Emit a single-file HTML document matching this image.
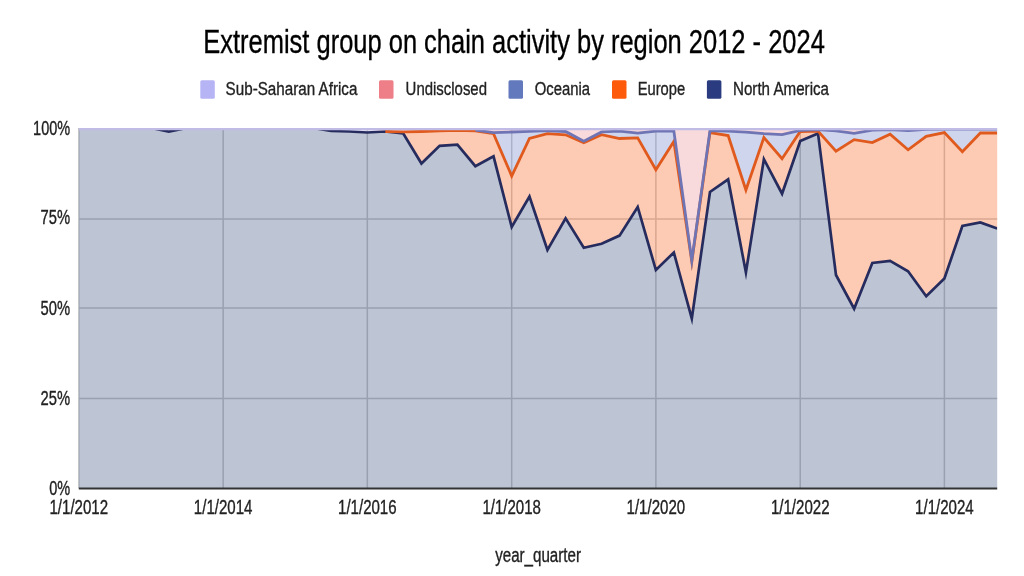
<!DOCTYPE html><html><head><meta charset="utf-8"><style>html,body{margin:0;padding:0;background:#fff;overflow:hidden}svg{display:block;will-change:transform}</style></head><body><svg width="1024" height="576" viewBox="0 0 1024 576"><defs><clipPath id="pc"><rect x="78.80" y="128.00" width="918.40" height="360.30"/></clipPath></defs><rect width="1024" height="576" fill="#fff"/><g stroke="#cccccc" stroke-width="1.5"><line x1="78.80" x2="997.20" y1="219.00" y2="219.00"/><line x1="78.80" x2="997.20" y1="308.00" y2="308.00"/><line x1="78.80" x2="997.20" y1="398.50" y2="398.50"/><line x1="78.80" x2="78.80" y1="128.0" y2="488.3"/><line x1="223.17" x2="223.17" y1="128.0" y2="488.3"/><line x1="367.33" x2="367.33" y1="128.0" y2="488.3"/><line x1="511.70" x2="511.70" y1="128.0" y2="488.3"/><line x1="655.87" x2="655.87" y1="128.0" y2="488.3"/><line x1="800.23" x2="800.23" y1="128.0" y2="488.3"/><line x1="944.40" x2="944.40" y1="128.0" y2="488.3"/></g><g fill-opacity="0.3"><polygon fill="#263a70" points="78.80,128.00 96.77,128.00 114.74,128.00 132.91,128.00 151.08,128.00 168.86,131.60 186.83,128.00 205.00,128.00 223.17,128.00 240.94,128.00 258.91,128.00 277.08,128.00 295.25,128.00 313.02,128.00 331.00,131.00 349.16,131.50 367.33,132.50 385.30,131.50 403.28,133.50 421.45,163.50 439.61,145.80 457.39,144.70 475.36,166.20 493.53,156.30 511.70,227.00 529.47,196.50 547.44,250.00 565.61,218.40 583.78,247.70 601.56,243.70 619.53,235.60 637.70,207.00 655.87,270.00 673.84,252.50 691.81,318.50 709.98,192.00 728.15,179.40 745.92,272.50 763.89,159.20 782.06,193.75 800.23,141.00 818.01,133.40 835.98,275.00 854.15,308.75 872.32,262.90 890.09,260.80 908.06,271.25 926.23,296.25 944.40,278.50 962.37,226.00 980.34,222.50 997.20,228.50 997.20,488.30 980.34,488.30 962.37,488.30 944.40,488.30 926.23,488.30 908.06,488.30 890.09,488.30 872.32,488.30 854.15,488.30 835.98,488.30 818.01,488.30 800.23,488.30 782.06,488.30 763.89,488.30 745.92,488.30 728.15,488.30 709.98,488.30 691.81,488.30 673.84,488.30 655.87,488.30 637.70,488.30 619.53,488.30 601.56,488.30 583.78,488.30 565.61,488.30 547.44,488.30 529.47,488.30 511.70,488.30 493.53,488.30 475.36,488.30 457.39,488.30 439.61,488.30 421.45,488.30 403.28,488.30 385.30,488.30 367.33,488.30 349.16,488.30 331.00,488.30 313.02,488.30 295.25,488.30 277.08,488.30 258.91,488.30 240.94,488.30 223.17,488.30 205.00,488.30 186.83,488.30 168.86,488.30 151.08,488.30 132.91,488.30 114.74,488.30 96.77,488.30 78.80,488.30"/><polygon fill="#f84e05" points="78.80,128.00 96.77,128.00 114.74,128.00 132.91,128.00 151.08,128.00 168.86,131.60 186.83,128.00 205.00,128.00 223.17,128.00 240.94,128.00 258.91,128.00 277.08,128.00 295.25,128.00 313.02,128.00 331.00,131.00 349.16,131.50 367.33,132.50 385.30,131.50 403.28,131.80 421.45,131.50 439.61,130.80 457.39,130.40 475.36,130.80 493.53,133.70 511.70,176.00 529.47,138.40 547.44,133.60 565.61,134.80 583.78,142.80 601.56,134.70 619.53,138.50 637.70,137.90 655.87,169.80 673.84,141.50 691.81,261.50 709.98,132.50 728.15,135.60 745.92,190.00 763.89,137.50 782.06,158.70 800.23,131.50 818.01,131.10 835.98,151.20 854.15,139.60 872.32,142.60 890.09,134.20 908.06,149.80 926.23,136.40 944.40,132.60 962.37,151.70 980.34,133.00 997.20,133.00 997.20,228.50 980.34,222.50 962.37,226.00 944.40,278.50 926.23,296.25 908.06,271.25 890.09,260.80 872.32,262.90 854.15,308.75 835.98,275.00 818.01,133.40 800.23,141.00 782.06,193.75 763.89,159.20 745.92,272.50 728.15,179.40 709.98,192.00 691.81,318.50 673.84,252.50 655.87,270.00 637.70,207.00 619.53,235.60 601.56,243.70 583.78,247.70 565.61,218.40 547.44,250.00 529.47,196.50 511.70,227.00 493.53,156.30 475.36,166.20 457.39,144.70 439.61,145.80 421.45,163.50 403.28,133.50 385.30,131.50 367.33,132.50 349.16,131.50 331.00,131.00 313.02,128.00 295.25,128.00 277.08,128.00 258.91,128.00 240.94,128.00 223.17,128.00 205.00,128.00 186.83,128.00 168.86,131.60 151.08,128.00 132.91,128.00 114.74,128.00 96.77,128.00 78.80,128.00"/><polygon fill="#5c73c0" points="78.80,128.00 96.77,128.00 114.74,128.00 132.91,128.00 151.08,128.00 168.86,131.60 186.83,128.00 205.00,128.00 223.17,128.00 240.94,128.00 258.91,128.00 277.08,128.00 295.25,128.00 313.02,128.00 331.00,131.00 349.16,131.50 367.33,132.50 385.30,131.50 403.28,131.80 421.45,131.50 439.61,130.80 457.39,130.40 475.36,130.20 493.53,132.60 511.70,132.00 529.47,131.40 547.44,130.60 565.61,131.50 583.78,141.20 601.56,131.90 619.53,131.10 637.70,133.20 655.87,131.10 673.84,130.90 691.81,260.50 709.98,130.60 728.15,131.20 745.92,132.20 763.89,133.70 782.06,134.70 800.23,130.30 818.01,129.60 835.98,130.90 854.15,133.30 872.32,130.20 890.09,129.60 908.06,130.60 926.23,129.40 944.40,129.20 962.37,129.20 980.34,129.20 997.20,129.20 997.20,133.00 980.34,133.00 962.37,151.70 944.40,132.60 926.23,136.40 908.06,149.80 890.09,134.20 872.32,142.60 854.15,139.60 835.98,151.20 818.01,131.10 800.23,131.50 782.06,158.70 763.89,137.50 745.92,190.00 728.15,135.60 709.98,132.50 691.81,261.50 673.84,141.50 655.87,169.80 637.70,137.90 619.53,138.50 601.56,134.70 583.78,142.80 565.61,134.80 547.44,133.60 529.47,138.40 511.70,176.00 493.53,133.70 475.36,130.80 457.39,130.40 439.61,130.80 421.45,131.50 403.28,131.80 385.30,131.50 367.33,132.50 349.16,131.50 331.00,131.00 313.02,128.00 295.25,128.00 277.08,128.00 258.91,128.00 240.94,128.00 223.17,128.00 205.00,128.00 186.83,128.00 168.86,131.60 151.08,128.00 132.91,128.00 114.74,128.00 96.77,128.00 78.80,128.00"/><polygon fill="#eb848a" points="78.80,128.00 96.77,128.00 114.74,128.00 132.91,128.00 151.08,128.00 168.86,131.60 186.83,128.00 205.00,128.00 223.17,128.00 240.94,128.00 258.91,128.00 277.08,128.00 295.25,128.00 313.02,128.00 331.00,131.00 349.16,131.50 367.33,132.50 385.30,129.00 403.28,129.00 421.45,129.00 439.61,129.00 457.39,129.00 475.36,129.00 493.53,129.00 511.70,129.00 529.47,129.00 547.44,129.00 565.61,129.00 583.78,129.00 601.56,129.00 619.53,129.00 637.70,129.00 655.87,129.00 673.84,129.00 691.81,129.00 709.98,129.00 728.15,129.00 745.92,129.00 763.89,129.00 782.06,129.00 800.23,129.00 818.01,129.00 835.98,129.00 854.15,129.00 872.32,129.00 890.09,129.00 908.06,129.00 926.23,129.00 944.40,129.00 962.37,129.00 980.34,129.00 997.20,129.00 997.20,129.20 980.34,129.20 962.37,129.20 944.40,129.20 926.23,129.40 908.06,130.60 890.09,129.60 872.32,130.20 854.15,133.30 835.98,130.90 818.01,129.60 800.23,130.30 782.06,134.70 763.89,133.70 745.92,132.20 728.15,131.20 709.98,130.60 691.81,260.50 673.84,130.90 655.87,131.10 637.70,133.20 619.53,131.10 601.56,131.90 583.78,141.20 565.61,131.50 547.44,130.60 529.47,131.40 511.70,132.00 493.53,132.60 475.36,130.20 457.39,130.40 439.61,130.80 421.45,131.50 403.28,131.80 385.30,131.50 367.33,132.50 349.16,131.50 331.00,131.00 313.02,128.00 295.25,128.00 277.08,128.00 258.91,128.00 240.94,128.00 223.17,128.00 205.00,128.00 186.83,128.00 168.86,131.60 151.08,128.00 132.91,128.00 114.74,128.00 96.77,128.00 78.80,128.00"/><polygon fill="#b2acee" points="78.80,128.00 96.77,128.00 114.74,128.00 132.91,128.00 151.08,128.00 168.86,128.00 186.83,128.00 205.00,128.00 223.17,128.00 240.94,128.00 258.91,128.00 277.08,128.00 295.25,128.00 313.02,128.00 331.00,128.00 349.16,128.00 367.33,128.00 385.30,128.00 403.28,128.00 421.45,128.00 439.61,128.00 457.39,128.00 475.36,128.00 493.53,128.00 511.70,128.00 529.47,128.00 547.44,128.00 565.61,128.00 583.78,128.00 601.56,128.00 619.53,128.00 637.70,128.00 655.87,128.00 673.84,128.00 691.81,128.00 709.98,128.00 728.15,128.00 745.92,128.00 763.89,128.00 782.06,128.00 800.23,128.00 818.01,128.00 835.98,128.00 854.15,128.00 872.32,128.00 890.09,128.00 908.06,128.00 926.23,128.00 944.40,128.00 962.37,128.00 980.34,128.00 997.20,128.00 997.20,129.00 980.34,129.00 962.37,129.00 944.40,129.00 926.23,129.00 908.06,129.00 890.09,129.00 872.32,129.00 854.15,129.00 835.98,129.00 818.01,129.00 800.23,129.00 782.06,129.00 763.89,129.00 745.92,129.00 728.15,129.00 709.98,129.00 691.81,129.00 673.84,129.00 655.87,129.00 637.70,129.00 619.53,129.00 601.56,129.00 583.78,129.00 565.61,129.00 547.44,129.00 529.47,129.00 511.70,129.00 493.53,129.00 475.36,129.00 457.39,129.00 439.61,129.00 421.45,129.00 403.28,129.00 385.30,129.00 367.33,132.50 349.16,131.50 331.00,131.00 313.02,128.00 295.25,128.00 277.08,128.00 258.91,128.00 240.94,128.00 223.17,128.00 205.00,128.00 186.83,128.00 168.86,131.60 151.08,128.00 132.91,128.00 114.74,128.00 96.77,128.00 78.80,128.00"/></g><g fill="none" stroke-linejoin="miter" stroke-miterlimit="20" clip-path="url(#pc)"><polyline stroke="#262c5e" stroke-width="2.7" points="78.80,128.00 96.77,128.00 114.74,128.00 132.91,128.00 151.08,128.00 168.86,131.60 186.83,128.00 205.00,128.00 223.17,128.00 240.94,128.00 258.91,128.00 277.08,128.00 295.25,128.00 313.02,128.00 331.00,131.00 349.16,131.50 367.33,132.50 385.30,131.50 403.28,133.50 421.45,163.50 439.61,145.80 457.39,144.70 475.36,166.20 493.53,156.30 511.70,227.00 529.47,196.50 547.44,250.00 565.61,218.40 583.78,247.70 601.56,243.70 619.53,235.60 637.70,207.00 655.87,270.00 673.84,252.50 691.81,318.50 709.98,192.00 728.15,179.40 745.92,272.50 763.89,159.20 782.06,193.75 800.23,141.00 818.01,133.40 835.98,275.00 854.15,308.75 872.32,262.90 890.09,260.80 908.06,271.25 926.23,296.25 944.40,278.50 962.37,226.00 980.34,222.50 997.20,228.50"/><polyline stroke="#e05a1e" stroke-width="2.8" points="385.30,131.50 403.28,131.80 421.45,131.50 439.61,130.80 457.39,130.40 475.36,130.80 493.53,133.70 511.70,176.00 529.47,138.40 547.44,133.60 565.61,134.80 583.78,142.80 601.56,134.70 619.53,138.50 637.70,137.90 655.87,169.80 673.84,141.50 691.81,261.50 709.98,132.50 728.15,135.60 745.92,190.00 763.89,137.50 782.06,158.70 800.23,131.50 818.01,131.10 835.98,151.20 854.15,139.60 872.32,142.60 890.09,134.20 908.06,149.80 926.23,136.40 944.40,132.60 962.37,151.70 980.34,133.00 997.20,133.00"/><polyline stroke="#6f74b4" stroke-width="2.8" points="475.36,130.20 493.53,132.60 511.70,132.00 529.47,131.40 547.44,130.60 565.61,131.50 583.78,141.20 601.56,131.90 619.53,131.10 637.70,133.20 655.87,131.10 673.84,130.90 691.81,260.50 709.98,130.60 728.15,131.20 745.92,132.20 763.89,133.70 782.06,134.70 800.23,130.30 818.01,129.60 835.98,130.90 854.15,133.30 872.32,130.20 890.09,129.60 908.06,130.60 926.23,129.40 944.40,129.20 962.37,129.20 980.34,129.20 997.20,129.20"/><polyline stroke="#c0bce6" stroke-width="4.6" points="78.80,128.00 96.77,128.00 114.74,128.00 132.91,128.00 151.08,128.00 168.86,128.00 186.83,128.00 205.00,128.00 223.17,128.00 240.94,128.00 258.91,128.00 277.08,128.00 295.25,128.00 313.02,128.00 331.00,128.00 349.16,128.00 367.33,128.00 385.30,128.00 403.28,128.00 421.45,128.00 439.61,128.00 457.39,128.00 475.36,128.00 493.53,128.00 511.70,128.00 529.47,128.00 547.44,128.00 565.61,128.00 583.78,128.00 601.56,128.00 619.53,128.00 637.70,128.00 655.87,128.00 673.84,128.00 691.81,128.00 709.98,128.00 728.15,128.00 745.92,128.00 763.89,128.00 782.06,128.00 800.23,128.00 818.01,128.00 835.98,128.00 854.15,128.00 872.32,128.00 890.09,128.00 908.06,128.00 926.23,128.00 944.40,128.00 962.37,128.00 980.34,128.00 997.20,128.00"/></g><line x1="78.80" x2="997.20" y1="488.60" y2="488.60" stroke="#333" stroke-width="2"/><text x="203.3" y="53" font-size="32.7" fill="#000" stroke="#000" stroke-width="0.35" textLength="621.5" lengthAdjust="spacingAndGlyphs" text-anchor="start" font-family="Liberation Sans, sans-serif">Extremist group on chain activity by region 2012 - 2024</text><rect x="200.3" y="80.2" width="14.5" height="18.6" rx="1.5" fill="#b7b4f5"/><text x="225.6" y="94.8" font-size="18.9" fill="#222" stroke="#222" stroke-width="0.35" textLength="131.8" lengthAdjust="spacingAndGlyphs" text-anchor="start" font-family="Liberation Sans, sans-serif">Sub-Saharan Africa</text><rect x="379" y="80.2" width="14.5" height="18.6" rx="1.5" fill="#ee7f88"/><text x="405.6" y="94.8" font-size="18.9" fill="#222" stroke="#222" stroke-width="0.35" textLength="81.4" lengthAdjust="spacingAndGlyphs" text-anchor="start" font-family="Liberation Sans, sans-serif">Undisclosed</text><rect x="508.5" y="80.2" width="14.5" height="18.6" rx="1.5" fill="#6379bd"/><text x="534.7" y="94.8" font-size="18.9" fill="#222" stroke="#222" stroke-width="0.35" textLength="55.4" lengthAdjust="spacingAndGlyphs" text-anchor="start" font-family="Liberation Sans, sans-serif">Oceania</text><rect x="612" y="80.2" width="14.5" height="18.6" rx="1.5" fill="#fe5a0c"/><text x="637.7" y="94.8" font-size="18.9" fill="#222" stroke="#222" stroke-width="0.35" textLength="47.5" lengthAdjust="spacingAndGlyphs" text-anchor="start" font-family="Liberation Sans, sans-serif">Europe</text><rect x="706.9" y="80.2" width="14.5" height="18.6" rx="1.5" fill="#2a3b80"/><text x="733" y="94.8" font-size="18.9" fill="#222" stroke="#222" stroke-width="0.35" textLength="96" lengthAdjust="spacingAndGlyphs" text-anchor="start" font-family="Liberation Sans, sans-serif">North America</text><text x="70.2" y="135.0" font-size="19.6" fill="#222" stroke="#222" stroke-width="0.35" textLength="37.1" lengthAdjust="spacingAndGlyphs" text-anchor="end" font-family="Liberation Sans, sans-serif">100%</text><text x="70.2" y="224.3" font-size="19.6" fill="#222" stroke="#222" stroke-width="0.35" textLength="29.6" lengthAdjust="spacingAndGlyphs" text-anchor="end" font-family="Liberation Sans, sans-serif">75%</text><text x="70.2" y="314.9" font-size="19.6" fill="#222" stroke="#222" stroke-width="0.35" textLength="29.6" lengthAdjust="spacingAndGlyphs" text-anchor="end" font-family="Liberation Sans, sans-serif">50%</text><text x="70.2" y="404.6" font-size="19.6" fill="#222" stroke="#222" stroke-width="0.35" textLength="29.6" lengthAdjust="spacingAndGlyphs" text-anchor="end" font-family="Liberation Sans, sans-serif">25%</text><text x="70.2" y="495.0" font-size="19.6" fill="#222" stroke="#222" stroke-width="0.35" textLength="21" lengthAdjust="spacingAndGlyphs" text-anchor="end" font-family="Liberation Sans, sans-serif">0%</text><text x="78.80" y="513.7" font-size="19.6" fill="#222" stroke="#222" stroke-width="0.35" textLength="58.6" lengthAdjust="spacingAndGlyphs" text-anchor="middle" font-family="Liberation Sans, sans-serif">1/1/2012</text><text x="223.17" y="513.7" font-size="19.6" fill="#222" stroke="#222" stroke-width="0.35" textLength="58.6" lengthAdjust="spacingAndGlyphs" text-anchor="middle" font-family="Liberation Sans, sans-serif">1/1/2014</text><text x="367.33" y="513.7" font-size="19.6" fill="#222" stroke="#222" stroke-width="0.35" textLength="58.6" lengthAdjust="spacingAndGlyphs" text-anchor="middle" font-family="Liberation Sans, sans-serif">1/1/2016</text><text x="511.70" y="513.7" font-size="19.6" fill="#222" stroke="#222" stroke-width="0.35" textLength="58.6" lengthAdjust="spacingAndGlyphs" text-anchor="middle" font-family="Liberation Sans, sans-serif">1/1/2018</text><text x="655.87" y="513.7" font-size="19.6" fill="#222" stroke="#222" stroke-width="0.35" textLength="58.6" lengthAdjust="spacingAndGlyphs" text-anchor="middle" font-family="Liberation Sans, sans-serif">1/1/2020</text><text x="800.23" y="513.7" font-size="19.6" fill="#222" stroke="#222" stroke-width="0.35" textLength="58.6" lengthAdjust="spacingAndGlyphs" text-anchor="middle" font-family="Liberation Sans, sans-serif">1/1/2022</text><text x="944.40" y="513.7" font-size="19.6" fill="#222" stroke="#222" stroke-width="0.35" textLength="58.6" lengthAdjust="spacingAndGlyphs" text-anchor="middle" font-family="Liberation Sans, sans-serif">1/1/2024</text><text x="538.1" y="561.7" font-size="19.6" fill="#222" stroke="#222" stroke-width="0.35" textLength="85.8" lengthAdjust="spacingAndGlyphs" text-anchor="middle" font-family="Liberation Sans, sans-serif">year_quarter</text></svg></body></html>
